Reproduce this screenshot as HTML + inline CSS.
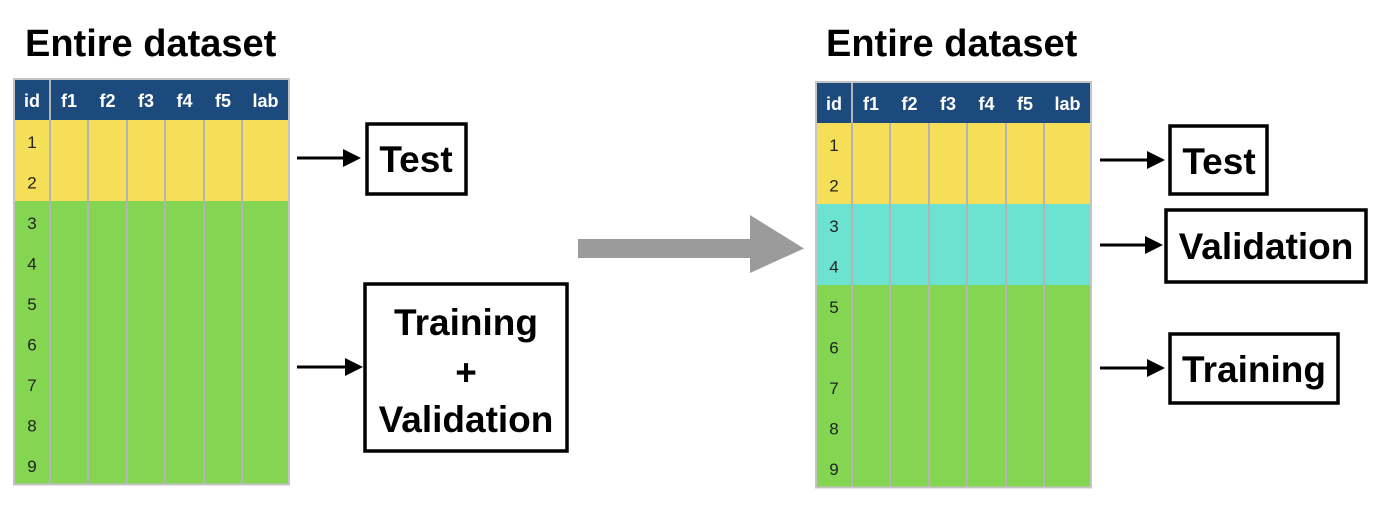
<!DOCTYPE html>
<html><head><meta charset="utf-8"><style>
body{margin:0;background:#fff;width:1382px;height:514px;overflow:hidden}
text{font-family:"Liberation Sans",Arial,sans-serif}
</style></head><body>
<svg id="s" width="1382" height="514" xmlns="http://www.w3.org/2000/svg">
<defs><marker id="ah" markerWidth="6" markerHeight="6" refX="5" refY="3" orient="auto" markerUnits="strokeWidth"><path d="M0,0 L6,3 L0,6 z" fill="#000"/></marker></defs>
<text x="25" y="56" font-size="38" font-weight="bold">Entire dataset</text>
<text x="826" y="56" font-size="38" font-weight="bold">Entire dataset</text>
<g id="lt"></g>
<g id="rt"></g>
<g>
<rect x="578" y="239" width="174" height="19" fill="#9b9b9b"/>
<polygon points="750,215 804,248.5 750,273" fill="#9b9b9b"/>
</g>
<g stroke="#000" stroke-width="3" fill="none">
<line x1="297" y1="158" x2="358" y2="158" marker-end="url(#ah)"/>
<line x1="297" y1="367" x2="360" y2="367" marker-end="url(#ah)"/>
<line x1="1100" y1="160" x2="1162" y2="160" marker-end="url(#ah)"/>
<line x1="1100" y1="245" x2="1160" y2="245" marker-end="url(#ah)"/>
<line x1="1100" y1="368" x2="1162" y2="368" marker-end="url(#ah)"/>
<rect x="367" y="124" width="99" height="70" stroke-width="3.5"/>
<rect x="365" y="284" width="202" height="167" stroke-width="3.5"/>
<rect x="1170" y="126" width="97" height="68" stroke-width="3.5"/>
<rect x="1166" y="210" width="200" height="72" stroke-width="3.5"/>
<rect x="1170" y="334" width="168" height="69" stroke-width="3.5"/>
</g>
<g font-size="37" font-weight="bold" text-anchor="middle">
<text x="416" y="172">Test</text>
<text x="466" y="335">Training</text>
<text x="466" y="385">+</text>
<text x="466" y="432">Validation</text>
<text x="1219" y="174">Test</text>
<text x="1266" y="259">Validation</text>
<text x="1254" y="382">Training</text>
</g>
</svg>
<script>
const headers=["id","f1","f2","f3","f4","f5","lab"];
const rowIds=[1,2,3,4,5,6,7,8,9];
const leftGroups=["test","test","train","train","train","train","train","train","train"];
const rightGroups=["test","test","val","val","train","train","train","train","train"];
const colors={test:"#f5de58",val:"#6ce3d0",train:"#84d652"};
const NS="http://www.w3.org/2000/svg";
function mk(tag,attrs,parent){const e=document.createElementNS(NS,tag);for(const k in attrs)e.setAttribute(k,attrs[k]);parent.appendChild(e);return e;}
function table(g,x0,y0,groups){
  const colW=[36,38,39,38,39,38,47];
  const hH=41,rH=40.5;
  let xs=[x0];colW.forEach(w=>xs.push(xs[xs.length-1]+w));
  const W=xs[xs.length-1]-x0;
  const hd=mk("rect",{x:x0,y:y0,width:W,height:hH,fill:"#1d4a7c"},g);
  
  
  groups.forEach((grp,i)=>{
    const r=mk("rect",{x:x0,y:y0+hH+i*rH,width:W,height:rH+0.6,fill:colors[grp]},g);
    
    
    const t=mk("text",{x:x0+18,y:y0+hH+i*rH+28,"font-size":17,"text-anchor":"middle",fill:"#222"},g);
    t.textContent=rowIds[i];
    
    
  });
  const H=hH+groups.length*rH;
  for(let i=1;i<xs.length-1;i++){
    mk("line",{x1:xs[i],y1:y0+(i==1?0:hH),x2:xs[i],y2:y0+H,stroke:"#b4b4b4","stroke-width":2},g);
  }
  mk("rect",{x:x0,y:y0,width:W,height:H,fill:"none",stroke:"#c4c4c4","stroke-width":2},g);
  headers.forEach((h,i)=>{
    const t=mk("text",{x:(xs[i]+xs[i+1])/2,y:y0+28,"font-size":18,"font-weight":"bold","text-anchor":"middle",fill:"#fff"},g);
    t.textContent=h;
    
    
  });
}
table(document.getElementById("lt"),14,79,leftGroups);
table(document.getElementById("rt"),816,82,rightGroups);
</script>
</body></html>
